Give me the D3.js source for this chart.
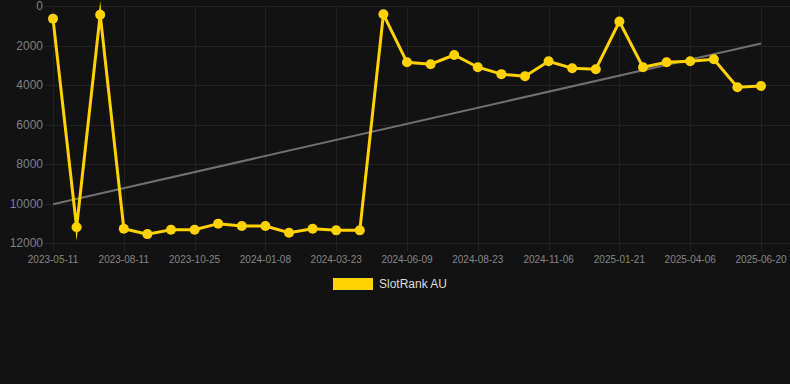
<!DOCTYPE html>
<html>
<head>
<meta charset="utf-8">
<script src="https://cdn.jsdelivr.net/npm/d3@7"></script>
<style>
  html, body { margin: 0; padding: 0; background: #121212; }
  svg { display: block; font-family: "Liberation Sans", Arial, sans-serif; }
</style>
</head>
<body>
<div id="chart"></div>
<script>
// dates (category axis, only every 3rd is labelled)
const dates = [
  '2023-05-11', '2023-06-11', '2023-07-11', '2023-08-11', '2023-09-05', '2023-09-30',
  '2023-10-25', '2023-11-19', '2023-12-14', '2024-01-08', '2024-02-02', '2024-02-27',
  '2024-03-23', '2024-04-17', '2024-05-14', '2024-06-09', '2024-07-04', '2024-07-29',
  '2024-08-23', '2024-09-17', '2024-10-12', '2024-11-06', '2024-12-01', '2024-12-27',
  '2025-01-21', '2025-02-15', '2025-03-12', '2025-04-06', '2025-05-01', '2025-05-26',
  '2025-06-20'
];

// rank values (lower is better, axis reversed)
const ranks = [
  650, 11200, 440, 11280, 11550, 11330, 11330, 11020, 11140, 11140, 11480, 11280,
  11360, 11360, 420, 2850, 2950, 2480, 3100, 3450, 3560, 2800, 3150, 3200,
  790, 3100, 2850, 2800, 2700, 4110, 4050
];

const yTicks = [0, 2000, 4000, 6000, 8000, 10000, 12000];
const seriesName = 'SlotRank AU';

const width = 790, height = 384;
const area = { left: 53, right: 761, top: 6, bottom: 243 };
const yellow = '#ffd200';

const svg = d3.select('#chart').append('svg')
  .attr('width', width)
  .attr('height', height);

const x = d3.scalePoint().domain(dates).range([area.left, area.right]);
const y = d3.scaleLinear().domain([0, 12000]).range([area.top, area.bottom]);

const shownDates = dates.filter((d, i) => i % 3 === 0);

// 网格
const grid = svg.append('g').attr('stroke', '#222').attr('stroke-width', 1);
grid.selectAll('.hg').data(yTicks).enter().append('line')
  .attr('x1', area.left - 8).attr('x2', width)
  .attr('y1', d => Math.round(y(d)) + 0.5).attr('y2', d => Math.round(y(d)) + 0.5);
grid.selectAll('.vg').data(shownDates).enter().append('line')
  .attr('x1', d => Math.round(x(d)) + 0.5).attr('x2', d => Math.round(x(d)) + 0.5)
  .attr('y1', area.top).attr('y2', area.bottom + 8);

// Y轴标签
svg.append('g').selectAll('text').data(yTicks).enter().append('text')
  .attr('x', 43)
  .attr('y', d => y(d))
  .attr('dy', '0.35em')
  .attr('text-anchor', 'end')
  .attr('fill', '#808080')
  .style('font-size', '12px')
  .text(d => d);

// X轴标签
svg.append('g').selectAll('text').data(shownDates).enter().append('text')
  .attr('x', d => x(d))
  .attr('y', 259)
  .attr('dy', '0.35em')
  .attr('text-anchor', 'middle')
  .attr('fill', '#868686')
  .style('font-size', '10px')
  .text(d => d);

// 趋势线（线性回归）
const idx = ranks.map((v, i) => i);
const mx = d3.mean(idx), my = d3.mean(ranks);
const slope = d3.sum(idx, i => (i - mx) * (ranks[i] - my)) / d3.sum(idx, i => (i - mx) ** 2);
const icpt = my - slope * mx;
svg.append('line')
  .attr('x1', x(dates[0])).attr('y1', y(icpt))
  .attr('x2', x(dates[dates.length - 1])).attr('y2', y(icpt + slope * (dates.length - 1)))
  .attr('stroke', '#707070')
  .attr('stroke-width', 2);

// 折线
const line = d3.line()
  .x((d, i) => x(dates[i]))
  .y(d => y(d));

svg.append('path')
  .datum(ranks)
  .attr('d', line)
  .attr('fill', 'none')
  .attr('stroke', yellow)
  .attr('stroke-width', 3)
  .attr('stroke-linejoin', 'miter')
  .attr('stroke-miterlimit', 10);

svg.selectAll('.dot').data(ranks).enter().append('circle')
  .attr('class', 'dot')
  .attr('cx', (d, i) => x(dates[i]))
  .attr('cy', d => y(d))
  .attr('r', 5)
  .attr('fill', yellow);

// 图例
svg.append('rect')
  .attr('x', 333).attr('y', 278)
  .attr('width', 40).attr('height', 12)
  .attr('fill', yellow);
svg.append('text')
  .attr('x', 379).attr('y', 284)
  .attr('dy', '0.35em')
  .attr('fill', '#ddd')
  .style('font-size', '12px')
  .text(seriesName);
</script>
</body>
</html>
